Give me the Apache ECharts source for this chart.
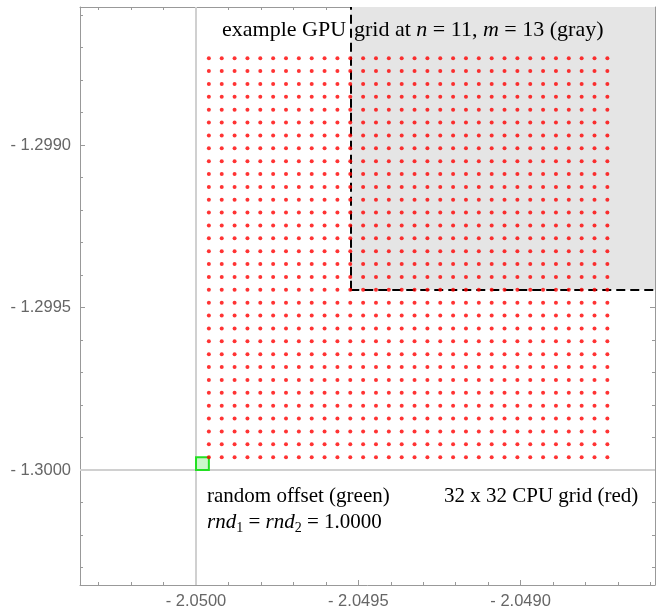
<!DOCTYPE html>
<html><head><meta charset="utf-8">
<script src="https://cdn.jsdelivr.net/npm/echarts@6/dist/echarts.min.js"></script>
<style>html,body{margin:0;padding:0;background:#fff}#c{width:657px;height:612px}</style>
</head><body><div id="c"></div>
<script>
// CPU grid sample positions (32 x 32)
const cpuX = [-2.0499604,-2.0499208,-2.0498812,-2.0498416,-2.0498020,-2.0497624,-2.0497228,-2.0496832,
  -2.0496436,-2.0496040,-2.0495644,-2.0495248,-2.0494852,-2.0494456,-2.0494060,-2.0493664,
  -2.0493268,-2.0492872,-2.0492476,-2.0492080,-2.0491684,-2.0491288,-2.0490892,-2.0490496,
  -2.0490100,-2.0489704,-2.0489308,-2.0488912,-2.0488516,-2.0488120,-2.0487724,-2.0487328];
const cpuY = [-1.2999604,-1.2999208,-1.2998812,-1.2998416,-1.2998020,-1.2997624,-1.2997228,-1.2996832,
  -1.2996436,-1.2996040,-1.2995644,-1.2995248,-1.2994852,-1.2994456,-1.2994060,-1.2993664,
  -1.2993268,-1.2992872,-1.2992476,-1.2992080,-1.2991684,-1.2991288,-1.2990892,-1.2990496,
  -1.2990100,-1.2989704,-1.2989308,-1.2988912,-1.2988516,-1.2988120,-1.2987724,-1.2987328];
const originX = -2.05, originY = -1.3;
const offsetSquare = [-2.0500000, -1.3000000, -2.0499604, -1.2999604];
const gpuCorner = [-2.0495248, -1.2994456];
const xRange = [-2.0503574, -2.0485860];
const yRange = [-1.3003538, -1.2985753];
const xMajor = [-2.0500, -2.0495, -2.0490];
const xMinor = [-2.0503,-2.0502,-2.0501,-2.0500,-2.0499,-2.0498,-2.0497,-2.0496,-2.0495,
  -2.0494,-2.0493,-2.0492,-2.0491,-2.0490,-2.0489,-2.0488,-2.0487,-2.0486];
const yMajor = [-1.3000, -1.2995, -1.2990];
const yMinor = [-1.3003,-1.3002,-1.3001,-1.3000,-1.2999,-1.2998,-1.2997,-1.2996,-1.2995,
  -1.2994,-1.2993,-1.2992,-1.2991,-1.2990,-1.2989,-1.2988,-1.2987,-1.2986];

const points = [];
cpuX.forEach(x => cpuY.forEach(y => points.push([x, y])));

const AX = '#999';
const fmt = v => '- ' + Math.abs(v).toFixed(4);
function mkAxis(range, pos, ticks, len, label, line, margin) {
  return {
    type: 'value', position: pos, min: range[0], max: range[1], scale: true,
    axisLine: { show: line, onZero: false, lineStyle: { color: AX, width: 1 } },
    axisTick: { show: true, inside: true, length: len, customValues: ticks, lineStyle: { color: AX, width: 1 } },
    axisLabel: { show: label, customValues: ticks, formatter: fmt, color: '#666',
      fontFamily: 'Liberation Sans, Arial, sans-serif', fontSize: 16.5, margin: margin },
    splitLine: { show: false }, axisPointer: { show: false }
  };
}

const chart = echarts.init(document.getElementById('c'), null, { renderer: 'canvas' });
const serif = 'Liberation Serif, Times New Roman, serif';
const FS = 21;
const tS = { fontFamily: serif, fontSize: FS, fill: '#000', lineHeight: 26 };
const iS = { fontFamily: serif, fontSize: FS, fill: '#000', fontStyle: 'italic', lineHeight: 26 };
const sS = { fontFamily: serif, fontSize: 14, fill: '#000', lineHeight: 10, verticalAlign: 'bottom' };
const tT = { fontFamily: serif, fontSize: 22, fill: '#000', lineHeight: 26 };
const iT = { fontFamily: serif, fontSize: 22, fill: '#000', fontStyle: 'italic', lineHeight: 26 };
const gT = { fontFamily: serif, fontSize: 22, fill: '#000', lineHeight: 26, padding: [0, 0, 0, 8] };

chart.setOption({
  animation: false,
  grid: { left: 80, right: 2, top: 7, bottom: 27, containLabel: false },
  xAxis: [
    mkAxis(xRange, 'bottom', xMajor, 5, true, true, 8),
    mkAxis(xRange, 'bottom', xMinor, 3, false, false, 8),
    mkAxis(xRange, 'top', xMajor, 5, false, true, 8),
    mkAxis(xRange, 'top', xMinor, 3, false, false, 8)
  ],
  yAxis: [
    mkAxis(yRange, 'left', yMajor, 5, true, true, 9),
    mkAxis(yRange, 'left', yMinor, 3, false, false, 9),
    mkAxis(yRange, 'right', yMajor, 5, false, true, 9),
    mkAxis(yRange, 'right', yMinor, 3, false, false, 9)
  ],
  series: [
    {
      type: 'scatter', name: 'bg', data: [], z: 1, silent: true,
      markArea: { silent: true, z: 1, itemStyle: { color: '#e5e5e5' },
        data: [[{ coord: gpuCorner }, { coord: [xRange[1], yRange[1]] }]] },
      markLine: { silent: true, z: 2, symbol: ['none', 'none'], label: { show: false }, animation: false,
        lineStyle: { color: '#d0d0d0', width: 2, type: 'solid' },
        data: [
          { xAxis: originX },
          { yAxis: originY },
          [{ coord: gpuCorner, lineStyle: { color: '#000', width: 2, type: [9, 5] } }, { coord: [gpuCorner[0], yRange[1]] }],
          [{ coord: gpuCorner, lineStyle: { color: '#000', width: 2, type: [9, 5] } }, { coord: [xRange[1], gpuCorner[1]] }]
        ] }
    },
    {
      type: 'custom', name: 'offset', data: [offsetSquare], z: 6, silent: true,
      renderItem: function (params, api) {
        const p0 = api.coord([api.value(0), api.value(1)]);
        const p1 = api.coord([api.value(2), api.value(3)]);
        return { type: 'rect',
          shape: { x: p0[0], y: p1[1], width: p1[0] - p0[0], height: p0[1] - p1[1] },
          style: { fill: '#ccf7cc', stroke: '#22e022', lineWidth: 2 } };
      }
    },
    {
      type: 'scatter', name: 'cpu', data: points, z: 8, silent: true,
      symbol: 'circle', symbolSize: 4, itemStyle: { color: '#ff0000' }
    }
  ],
  graphic: [
    { type: 'text', x: 222, y: 30, z: 10, silent: true,
      style: { text: '{t|example GPU}{g|grid at }{i|n}{t| = 11, }{i|m}{t| = 13 (gray)}',
        rich: { t: tT, i: iT, g: gT }, verticalAlign: 'middle' } },
    { type: 'text', x: 207, y: 496, z: 10, silent: true,
      style: { text: '{t|random offset (green)}', rich: { t: tS }, verticalAlign: 'middle' } },
    { type: 'text', x: 207, y: 522, z: 10, silent: true,
      style: { text: '{i|rnd}{s|1}{t| = }{i|rnd}{s|2}{t| = 1.0000}', rich: { t: tS, i: iS, s: sS }, verticalAlign: 'middle' } },
    { type: 'text', x: 444, y: 496, z: 10, silent: true,
      style: { text: '{t|32 x 32 CPU grid (red)}', rich: { t: tS }, verticalAlign: 'middle' } }
  ]
});
</script></body></html>
